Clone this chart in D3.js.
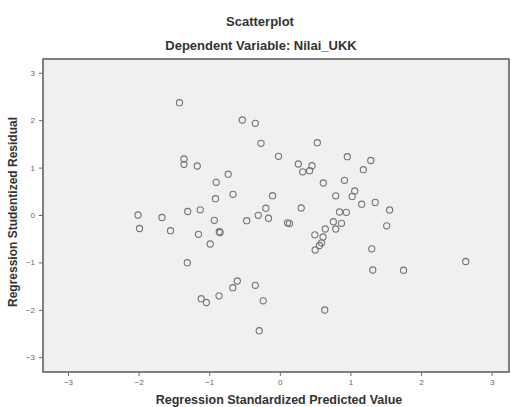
<!DOCTYPE html>
<html>
<head>
<meta charset="utf-8">
<script src="https://cdn.jsdelivr.net/npm/d3@7"></script>
<style>
  body { margin: 0; background: #fff; }
  svg text { font-family: "Liberation Sans", Arial, sans-serif; }
</style>
</head>
<body>
<svg id="chart" width="511" height="407"></svg>
<script>
// standardized predicted value (x) vs studentized residual (y)
const predicted = [
  -1.421, -0.531, -0.347, -0.266, -0.018, -1.357, -1.357, -1.169, -0.731, -0.901,
  -0.911, -0.663, -0.103, -0.198, -2.008, -1.669, -1.305, -1.127, -0.928, -0.469,
  -0.305, -0.160, -1.987, -1.548, -1.152, -0.857, -0.847, -0.986, -1.310, -0.602,
  -0.666, -0.347, -0.235, -1.113, -1.041, -0.861, -0.292,
  0.531, 0.956, 1.288, 0.262, 0.456, 0.324, 0.422, 1.183, 0.616, 0.916,
  1.061, 1.025, 0.792, 1.160, 1.351, 0.303, 0.846, 0.942, 1.555, 0.109,
  0.137, 0.758, 0.874, 0.792, 0.644, 0.496, 0.612, 0.591, 0.562, 0.501,
  1.514, 1.302, 1.316, 1.752, 2.633, 0.636
];
const residual = [
  2.369, 2.004, 1.935, 1.513, 1.238, 1.181, 1.070, 1.034, 0.861, 0.690,
  0.344, 0.437, 0.407, 0.143, 0.000, -0.053, 0.074, 0.110, -0.112, -0.120,
  -0.006, -0.068, -0.285, -0.331, -0.407, -0.352, -0.369, -0.612, -1.006, -1.392,
  -1.534, -1.483, -1.810, -1.766, -1.846, -1.705, -2.441,
  1.525, 1.230, 1.150, 1.076, 1.040, 0.911, 0.935, 0.956, 0.675, 0.732,
  0.506, 0.392, 0.405, 0.228, 0.266, 0.148, 0.063, 0.057, 0.105, -0.165,
  -0.181, -0.141, -0.175, -0.295, -0.295, -0.418, -0.464, -0.586, -0.643, -0.738,
  -0.228, -0.713, -1.160, -1.165, -0.981, -2.004
];
const xTicks = [-3, -2, -1, 0, 1, 2, 3];
const yTicks = [-3, -2, -1, 0, 1, 2, 3];

const points = predicted.map((d, i) => ({x: d, y: residual[i]}));

const svg = d3.select("#chart");
const plot = {left: 43, right: 509, top: 59, bottom: 372};

const x = d3.scaleLinear().domain([-3.354, 3.246]).range([plot.left, plot.right]);
const y = d3.scaleLinear().domain([-3.312, 3.291]).range([plot.bottom, plot.top]);

// plot area
svg.append("rect")
    .attr("x", plot.left).attr("y", plot.top)
    .attr("width", plot.right - plot.left).attr("height", plot.bottom - plot.top)
    .attr("fill", "#f0f0f0")
    .attr("stroke", "#5a5a5a")
    .attr("stroke-width", 1.5);

// axes, integer labels like the SPSS output
const xAxis = d3.axisBottom(x).tickValues(xTicks).tickFormat(d3.format("d")).tickSize(4).tickPadding(3);
const gx = svg.append("g")
    .attr("transform", `translate(0,${plot.bottom})`)
    .call(xAxis);
const yAxis = d3.axisLeft(y).tickValues(yTicks).tickFormat(d3.format("d")).tickSize(4).tickPadding(4);
const gy = svg.append("g")
    .attr("transform", `translate(${plot.left},0)`)
    .call(yAxis);

[gx, gy].forEach(g => {
    g.select(".domain").remove();
    g.selectAll(".tick line").attr("stroke", "#6a6a6a");
    g.selectAll(".tick text")
        .attr("fill", "#666")
        .style("font-size", "8px")
        .style("font-family", "'Liberation Sans', Arial, sans-serif");
});

// points
svg.selectAll(".dot")
    .data(points)
    .enter().append("circle")
    .attr("class", "dot")
    .attr("cx", d => x(d.x))
    .attr("cy", d => y(d.y))
    .attr("r", 3.1)
    .attr("fill", "none")
    .attr("stroke", "#757575")
    .attr("stroke-width", 1.1);

// titles
svg.append("text")
    .attr("x", 260).attr("y", 26)
    .attr("text-anchor", "middle")
    .attr("font-size", "13px").attr("font-weight", "bold")
    .attr("fill", "#333")
    .text("Scatterplot");

svg.append("text")
    .attr("x", 261).attr("y", 50)
    .attr("text-anchor", "middle")
    .attr("font-size", "13px").attr("font-weight", "bold")
    .attr("fill", "#333")
    .text("Dependent Variable: Nilai_UKK");

svg.append("text")
    .attr("x", 279).attr("y", 404)
    .attr("text-anchor", "middle")
    .attr("font-size", "12.5px").attr("font-weight", "bold")
    .attr("fill", "#333")
    .text("Regression Standardized Predicted Value");

svg.append("text")
    .attr("transform", "translate(17,212) rotate(-90)")
    .attr("text-anchor", "middle")
    .attr("font-size", "12px").attr("font-weight", "bold")
    .attr("fill", "#333")
    .text("Regression Studentized Residual");
</script>
</body>
</html>
